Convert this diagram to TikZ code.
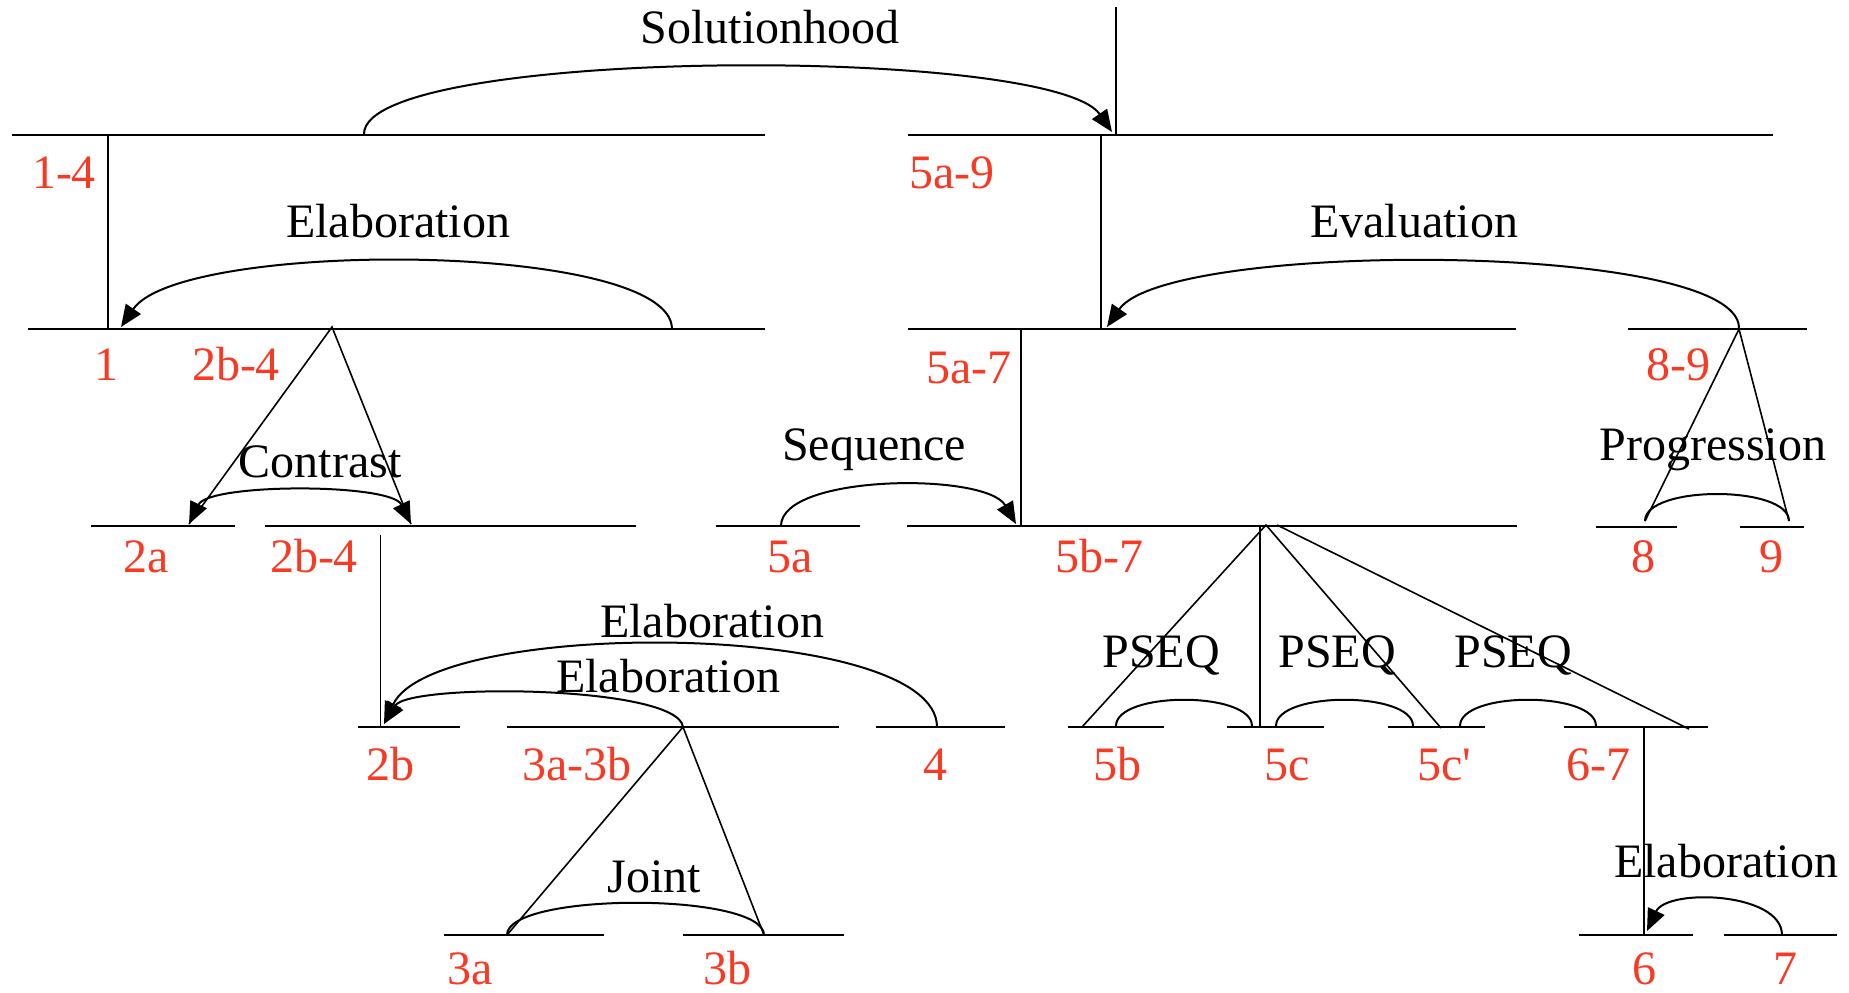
\documentclass[tikz,border=0pt]{standalone}
\usepackage{fontspec}
\setmainfont{Liberation Serif}
\usetikzlibrary{arrows.meta}
\definecolor{segred}{RGB}{248,58,36}
\begin{document}
\begin{tikzpicture}[x=0.5pt,y=-0.5pt,
  seg/.style={line width=1.3pt},
  link/.style={line width=0.8pt},
  rel/.style={line width=1pt},
  arr/.style={rel,-{Triangle[length=11pt,width=9pt]}},
  arrs/.style={rel,{Triangle[length=11pt,width=9pt]}-{Triangle[length=11pt,width=9pt]}},
  lab/.style={text=segred,anchor=base,inner sep=0pt,font=\fontsize{24}{28}\selectfont},
  rname/.style={anchor=base,inner sep=0pt,font=\fontsize{24}{28}\selectfont}]
\useasboundingbox (0,0) rectangle (1849,992);

% ---------- horizontal segment lines ----------
\coordinate (h14a) at (12,135);   \coordinate (h14b) at (765,135);
\coordinate (h59a) at (908,135);  \coordinate (h59b) at (1773,135);
\coordinate (h1a) at (28,329);    \coordinate (h1b) at (765,329);
\coordinate (h57a) at (908,329);  \coordinate (h57b) at (1516,329);
\coordinate (h89a) at (1628,329); \coordinate (h89b) at (1807,329);
\coordinate (h2aa) at (91,526);   \coordinate (h2ab) at (235,526);
\coordinate (h24a) at (265,526);  \coordinate (h24b) at (636,526);
\coordinate (h5aa) at (716,526);  \coordinate (h5ab) at (860,526);
\coordinate (h5b7a) at (907,526); \coordinate (h5b7b) at (1517,526);
\coordinate (h8a) at (1596,527);  \coordinate (h8b) at (1677,527);
\coordinate (h9a) at (1740,527);  \coordinate (h9b) at (1804,527);
\coordinate (h2ba) at (358,727);  \coordinate (h2bb) at (460,727);
\coordinate (h3aba) at (507,727); \coordinate (h3abb) at (839,727);
\coordinate (h4a) at (876,727);   \coordinate (h4b) at (1005,727);
\coordinate (h5ba) at (1068,727); \coordinate (h5bb) at (1164,727);
\coordinate (h5ca) at (1227,727); \coordinate (h5cb) at (1324,727);
\coordinate (h5cpa) at (1388,727);\coordinate (h5cpb) at (1485,727);
\coordinate (h67a) at (1564,727); \coordinate (h67b) at (1708,727);
\coordinate (h3aa) at (444,935);  \coordinate (h3ab) at (604,935);
\coordinate (h3ba) at (683,935);  \coordinate (h3bb) at (844,935);
\coordinate (h6a) at (1579,935);  \coordinate (h6b) at (1693,935);
\coordinate (h7a) at (1724,935);  \coordinate (h7b) at (1837,935);

\foreach \s in {14,59,1,57,89,2a,24,5a,5b7,8,9,2b,3ab,4,5b,5c,5cp,67,3a,3b,6,7}
  \draw[seg] (h\s a) -- (h\s b);

% ---------- vertical (nucleus) links ----------
\coordinate (vroot) at (1116,7);   \coordinate (vrootb) at (1116,135);
\coordinate (v14t) at (108,135);   \coordinate (v14b) at (108,329);
\coordinate (v59t) at (1101,135);  \coordinate (v59b) at (1101,329);
\coordinate (v57t) at (1021,329);  \coordinate (v57b) at (1021,526);
\coordinate (v24t) at (380.5,535); \coordinate (v24b) at (380.5,727);
\coordinate (v67t) at (1644,727);  \coordinate (v67b) at (1644,935);
\coordinate (vfant) at (1260,527); \coordinate (vfanb) at (1260,727);
\draw[link] (vroot) -- (vrootb);
\draw[link] (v14t) -- (v14b);
\draw[link] (v59t) -- (v59b);
\draw[link] (v57t) -- (v57b);
\draw[link] (v24t) -- (v24b);
\draw[link] (v67t) -- (v67b);
\draw[link] (vfant) -- (vfanb);

% ---------- multinuclear spans (diagonals) ----------
\coordinate (cApex) at (332,327);
\coordinate (c2a) at (189,524);  \coordinate (c24) at (411,524);
\draw[link] (c2a) -- (cApex) -- (c24);
\coordinate (pApex) at (1739,329);
\coordinate (p8) at (1645,521);  \coordinate (p9) at (1789,521);
\draw[link] (p8) -- (pApex) -- (p9);
\coordinate (jApex) at (683,727);
\coordinate (j3a) at (507,935);  \coordinate (j3b) at (764,935);
\draw[link] (j3a) -- (jApex) -- (j3b);
\coordinate (fApex) at (1266,525); \coordinate (fApexR) at (1277,525);
\coordinate (f5b) at (1082,727); \coordinate (f5cp) at (1441,728);
\coordinate (f67) at (1689,729);
\draw[link] (f5b) -- (fApex) -- (f5cp);
\draw[link] (fApexR) -- (f67);

% ---------- relation arcs ----------
\coordinate (sSol) at (364,134);  \coordinate (eSol) at (1112,132);
\draw[arr] (sSol) .. controls +(0,-87) and +(-60,-87) .. (eSol);
\coordinate (sEl1) at (672,329);  \coordinate (eEl1) at (121,327);
\draw[arr] (sEl1) .. controls +(0,-88) and +(60,-88) .. (eEl1);
\coordinate (sEv) at (1739,328);  \coordinate (eEv) at (1107,327);
\draw[arr] (sEv) .. controls +(0,-87) and +(60,-87) .. (eEv);
\draw[arrs] (c2a) .. controls +(20,-41) and +(-20,-41) .. (c24);
\coordinate (sSeq) at (781,526);  \coordinate (eSeq) at (1016,524);
\draw[arr] (sSeq) .. controls +(0,-52) and +(-30,-52) .. (eSeq);
\coordinate (sEl2) at (937,727);  \coordinate (eEl2) at (384,724);
\draw[arr] (sEl2) .. controls +(0,-107) and +(50,-107) .. (eEl2);
\draw[arr] (jApex) .. controls +(-5,-42) and +(25,-41) .. (eEl2);
\draw[rel] (j3a) .. controls +(0,-43) and +(0,-43) .. (j3b);
\coordinate (ps1a) at (1116,726); \coordinate (ps1b) at (1252,726);
\coordinate (ps2a) at (1276,726); \coordinate (ps2b) at (1413,726);
\coordinate (ps3a) at (1460,726); \coordinate (ps3b) at (1596,726);
\draw[rel] (ps1a) .. controls +(0,-35) and +(0,-35) .. (ps1b);
\draw[rel] (ps2a) .. controls +(0,-35) and +(0,-35) .. (ps2b);
\draw[rel] (ps3a) .. controls +(0,-35) and +(0,-35) .. (ps3b);
\coordinate (sEl3) at (1782,935); \coordinate (eEl3) at (1647,931);
\draw[arr] (sEl3) .. controls +(0,-43) and +(20,-43) .. (eEl3);
\draw[rel] (p8) .. controls +(0,-36) and +(0,-36) .. (p9);

% ---------- relation names ----------
\node[rname] (nSol) at (770,43) {Solutionhood};
\node[rname] (nEl1) at (398,237) {Elaboration};
\node[rname] (nEv) at (1414,237) {Evaluation};
\node[rname] (nCon) at (320,477) {Contrast};
\node[rname] (nSeq) at (874,460) {Sequence};
\node[rname] (nProg) at (1713,460) {Progression};
\node[rname] (nEl2) at (712,637) {Elaboration};
\node[rname] (nEl3) at (668,692) {Elaboration};
\node[rname] (nPs1) at (1161,667) {PSEQ};
\node[rname] (nPs2) at (1337,667) {PSEQ};
\node[rname] (nPs3) at (1513,667) {PSEQ};
\node[rname] (nJoint) at (654,892) {Joint};
\node[rname] (nEl4) at (1726,877) {Elaboration};

% ---------- segment labels ----------
\node[lab] (l14) at (64,188) {1-4};
\node[lab] (l59) at (952,188) {5a-9};
\node[lab] (l1) at (106,380) {1};
\node[lab] (l2b4a) at (236,380) {2b-4};
\node[lab] (l57) at (969,383) {5a-7};
\node[lab] (l89) at (1678,380) {8-9};
\node[lab] (l2a) at (146,572) {2a};
\node[lab] (l2b4b) at (314,572) {2b-4};
\node[lab] (l5a) at (790,572) {5a};
\node[lab] (l5b7) at (1099,572) {5b-7};
\node[lab] (l8) at (1643,572) {8};
\node[lab] (l9) at (1771,572) {9};
\node[lab] (l2b) at (390,780) {2b};
\node[lab] (l3ab) at (577,780) {3a-3b};
\node[lab] (l4) at (935,780) {4};
\node[lab] (l5b) at (1117,780) {5b};
\node[lab] (l5c) at (1287,780) {5c};
\node[lab] (l5cp) at (1444,780) {5c\textquotesingle};
\node[lab] (l67) at (1598,780) {6-7};
\node[lab] (l3a) at (470,984) {3a};
\node[lab] (l3b) at (727,984) {3b};
\node[lab] (l6) at (1644,984) {6};
\node[lab] (l7) at (1785,984) {7};
\end{tikzpicture}
\end{document}
